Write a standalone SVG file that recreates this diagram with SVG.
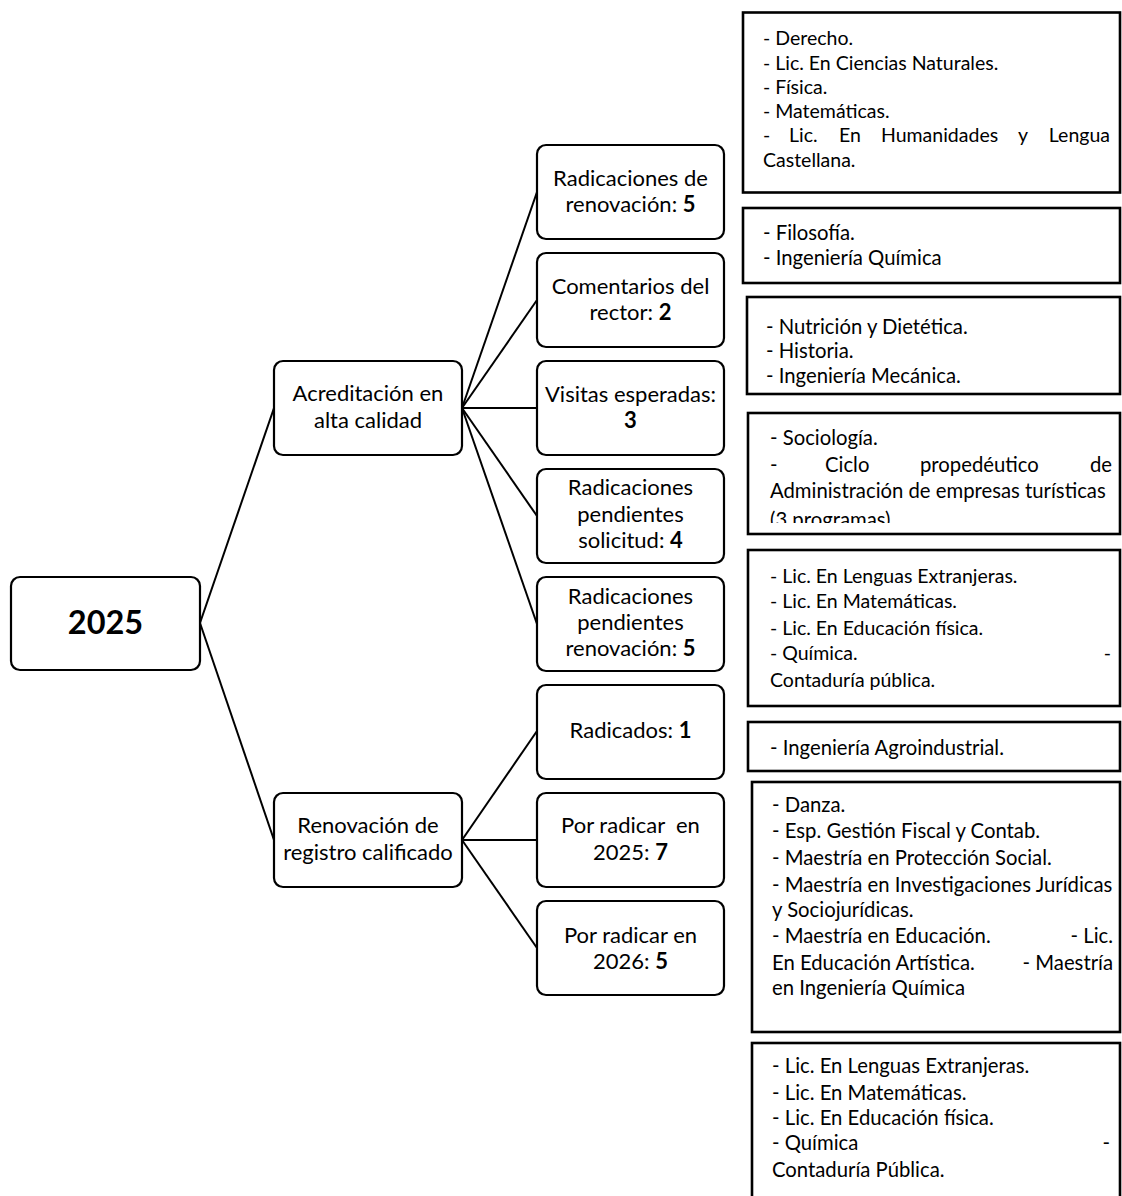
<svg xmlns="http://www.w3.org/2000/svg" width="1122" height="1196" viewBox="0 0 1122 1196">
<style>
.node rect{fill:#fff;stroke:#000;stroke-width:2.2}
.box rect{fill:#fff;stroke:#000;stroke-width:2.6}
.nt{font-family:Lato,"Liberation Sans",sans-serif;font-size:22px;fill:#000;text-anchor:middle}
.bt{font-family:Lato,"Liberation Sans",sans-serif;font-size:19.5px;fill:#000}
.bt2{font-family:Lato,"Liberation Sans",sans-serif;font-size:20.3px;fill:#000}
.b{font-weight:bold}
#connectors line{stroke:#000;stroke-width:2}
</style>
<defs>
<clipPath id="clip4"><rect x="748" y="413" width="374" height="110"/></clipPath>
</defs>
<rect width="1122" height="1196" fill="#fff"/>
<g id="connectors">
<line x1="200" y1="623" x2="274" y2="408"/>
<line x1="200" y1="623" x2="274" y2="840"/>
<line x1="462" y1="408" x2="537" y2="192"/>
<line x1="462" y1="408" x2="537" y2="300"/>
<line x1="462" y1="408" x2="537" y2="408"/>
<line x1="462" y1="408" x2="537" y2="516"/>
<line x1="462" y1="408" x2="537" y2="624"/>
<line x1="462" y1="840" x2="537" y2="731"/>
<line x1="462" y1="840" x2="537" y2="840"/>
<line x1="462" y1="840" x2="537" y2="948"/>
</g>
<g id="n2025" class="node"><rect x="11" y="577" width="189" height="93" rx="9"/><text class="nt b" x="105.5" y="634" style="font-size:32.5px">2025</text></g>
<g id="acreditacion" class="node"><rect x="274" y="361" width="188" height="94" rx="9"/><text class="nt" x="368" y="401">Acreditación en</text><text class="nt" x="368" y="428">alta calidad</text></g>
<g id="renovacion" class="node"><rect x="274" y="793" width="188" height="94" rx="9"/><text class="nt" x="368" y="833">Renovación de</text><text class="nt" x="368" y="860">registro calificado</text></g>
<g id="rad-renov" class="node"><rect x="537" y="145" width="187" height="94" rx="9"/><text class="nt" x="630.5" y="186">Radicaciones de</text><text class="nt" x="630.5" y="212">renovación: <tspan class="b">5</tspan></text></g>
<g id="comentarios" class="node"><rect x="537" y="253" width="187" height="94" rx="9"/><text class="nt" x="630.5" y="294">Comentarios del</text><text class="nt" x="630.5" y="320">rector: <tspan class="b">2</tspan></text></g>
<g id="visitas" class="node"><rect x="537" y="361" width="187" height="94" rx="9"/><text class="nt" x="630.5" y="402">Visitas esperadas:</text><text class="nt b" x="630.5" y="428">3</text></g>
<g id="pend-sol" class="node"><rect x="537" y="469" width="187" height="94" rx="9"/><text class="nt" x="630.5" y="495">Radicaciones</text><text class="nt" x="630.5" y="522">pendientes</text><text class="nt" x="630.5" y="548">solicitud: <tspan class="b">4</tspan></text></g>
<g id="pend-renov" class="node"><rect x="537" y="577" width="187" height="94" rx="9"/><text class="nt" x="630.5" y="604">Radicaciones</text><text class="nt" x="630.5" y="630">pendientes</text><text class="nt" x="630.5" y="656">renovación: <tspan class="b">5</tspan></text></g>
<g id="radicados" class="node"><rect x="537" y="685" width="187" height="94" rx="9"/><text class="nt" x="630.5" y="738">Radicados: <tspan class="b">1</tspan></text></g>
<g id="por2025" class="node"><rect x="537" y="793" width="187" height="94" rx="9"/><text class="nt" x="630.5" y="833" xml:space="preserve">Por radicar  en</text><text class="nt" x="630.5" y="860">2025: <tspan class="b">7</tspan></text></g>
<g id="por2026" class="node"><rect x="537" y="901" width="187" height="94" rx="9"/><text class="nt" x="630.5" y="943">Por radicar en</text><text class="nt" x="630.5" y="969">2026: <tspan class="b">5</tspan></text></g>

<g id="box1" class="box"><rect x="743" y="12.5" width="377" height="180"/>
<text class="bt" x="763" y="45">- Derecho.</text>
<text class="bt" x="763" y="70">- Lic. En Ciencias Naturales.</text>
<text class="bt" x="763" y="94">- Física.</text>
<text class="bt" x="763" y="118">- Matemáticas.</text>
<text class="bt" y="142"><tspan x="763">-</tspan><tspan x="789">Lic.</tspan><tspan x="839">En</tspan><tspan x="881">Humanidades</tspan><tspan x="1018">y</tspan><tspan x="1110" text-anchor="end">Lengua</tspan></text>
<text class="bt" x="763" y="167">Castellana.</text>
</g>
<g id="box2" class="box"><rect x="743" y="208" width="377" height="75"/>
<text class="bt2" x="763" y="240">- Filosofía.</text>
<text class="bt2" x="763" y="265">- Ingeniería Química</text>
</g>
<g id="box3" class="box"><rect x="747" y="297" width="373" height="97"/>
<text class="bt2" x="766" y="334">- Nutrición y Dietética.</text>
<text class="bt2" x="766" y="358">- Historia.</text>
<text class="bt2" x="766" y="383">- Ingeniería Mecánica.</text>
</g>
<g id="box4" class="box"><rect x="748" y="413" width="372" height="121"/>
<g clip-path="url(#clip4)">
<text class="bt2" x="770" y="445">- Sociología.</text>
<text class="bt2" y="472"><tspan x="770">-</tspan><tspan x="825">Ciclo</tspan><tspan x="920">propedéutico</tspan><tspan x="1112" text-anchor="end">de</tspan></text>
<text class="bt2" x="770" y="498">Administración de empresas turísticas</text>
<text class="bt2" x="770" y="527">(3 programas)</text>
</g>
</g>
<g id="box5" class="box"><rect x="748" y="550" width="372" height="156"/>
<text class="bt" x="770" y="583">- Lic. En Lenguas Extranjeras.</text>
<text class="bt" x="770" y="608">- Lic. En Matemáticas.</text>
<text class="bt" x="770" y="635">- Lic. En Educación física.</text>
<text class="bt" y="660"><tspan x="770">- Química.</tspan><tspan x="1111" text-anchor="end">-</tspan></text>
<text class="bt" x="770" y="687">Contaduría pública.</text>
</g>
<g id="box6" class="box"><rect x="748" y="722" width="372" height="49"/>
<text class="bt2" x="770" y="755">- Ingeniería Agroindustrial.</text>
</g>
<g id="box7" class="box"><rect x="752" y="782" width="368" height="250"/>
<text class="bt2" x="772" y="812">- Danza.</text>
<text class="bt2" x="772" y="838">- Esp. Gestión Fiscal y Contab.</text>
<text class="bt2" x="772" y="865">- Maestría en Protección Social.</text>
<text class="bt2" x="772" y="892">- Maestría en Investigaciones Jurídicas</text>
<text class="bt2" x="772" y="917">y Sociojurídicas.</text>
<text class="bt2" y="943"><tspan x="772">- Maestría en Educación.</tspan><tspan x="1113" text-anchor="end">- Lic.</tspan></text>
<text class="bt2" y="970"><tspan x="772">En Educación Artística.</tspan><tspan x="1113" text-anchor="end">- Maestría</tspan></text>
<text class="bt2" x="772" y="995">en Ingeniería Química</text>
</g>
<g id="box8" class="box"><rect x="752" y="1043" width="368" height="170"/>
<text class="bt2" x="772" y="1073">- Lic. En Lenguas Extranjeras.</text>
<text class="bt2" x="772" y="1100">- Lic. En Matemáticas.</text>
<text class="bt2" x="772" y="1125">- Lic. En Educación física.</text>
<text class="bt2" y="1150"><tspan x="772">- Química</tspan><tspan x="1110" text-anchor="end">-</tspan></text>
<text class="bt2" x="772" y="1177">Contaduría Pública.</text>
</g>
</svg>
